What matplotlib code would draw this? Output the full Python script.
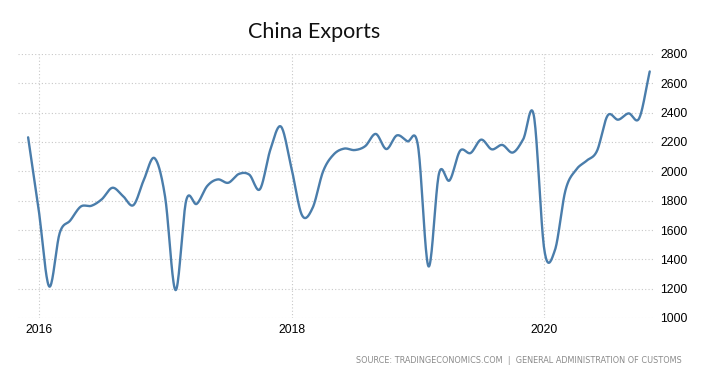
import numpy as np
import matplotlib
matplotlib.use('Agg')
import matplotlib.pyplot as plt

# Monthly exports, Dec 2015 .. Nov 2020 (month index 0 = Jan 2016)
months = np.arange(-1, 59)
exports = [2232,
           1740, 1215, 1580, 1665, 1760, 1765, 1810, 1888, 1832, 1770, 1945, 2090,
           1827, 1190, 1800, 1778, 1900, 1945, 1922, 1982, 1977, 1878, 2150, 2305,
           2020, 1700, 1750, 2000, 2115, 2155, 2145, 2172, 2255, 2152, 2245, 2205,
           2176, 1352, 1985, 1938, 2140, 2125, 2216, 2150, 2180, 2128, 2220, 2380,
           1462, 1462, 1870, 2010, 2072, 2140, 2380, 2352, 2395, 2362, 2681]
year_ticks = [0, 24, 48]
year_labels = ['2016', '2018', '2020']
y_ticks = [1000, 1200, 1400, 1600, 1800, 2000, 2200, 2400, 2600, 2800]


def smooth(x, y, n=20):
    # catmull-rom spline through the points, like the original chart
    x = np.asarray(x, float)
    y = np.asarray(y, float)
    m = np.gradient(y)
    xs, ys = [], []
    t = np.linspace(0, 1, n, endpoint=False)
    h00 = 2 * t**3 - 3 * t**2 + 1
    h10 = t**3 - 2 * t**2 + t
    h01 = -2 * t**3 + 3 * t**2
    h11 = t**3 - t**2
    for i in range(len(x) - 1):
        xs.append(x[i] + t * (x[i + 1] - x[i]))
        ys.append(h00 * y[i] + h10 * m[i] + h01 * y[i + 1] + h11 * m[i + 1])
    xs.append([x[-1]])
    ys.append([y[-1]])
    return np.concatenate(xs), np.concatenate(ys)


fig = plt.figure(figsize=(7.06, 3.87), dpi=100)
ax = fig.add_axes([18 / 706, 69 / 387, 637 / 706, 264 / 387])

sx, sy = smooth(months, exports)
ax.plot(sx, sy, color='#4a7dab', linewidth=1.7, solid_capstyle='round')

ax.set_xlim(-1.96, 58.5)
ax.set_ylim(1000, 2800)
ax.set_xticks(year_ticks)
ax.set_xticklabels(year_labels)
ax.set_yticks(y_ticks)
ax.yaxis.tick_right()
ax.tick_params(length=0, labelsize=8.8)
ax.tick_params(axis='y', pad=3.6)
ax.tick_params(axis='x', pad=4)
for lab in ax.get_xticklabels() + ax.get_yticklabels():
    lab.set_family('Liberation Sans')

ax.grid(True, color='#c8c8c8', linestyle=(0, (1, 2)), linewidth=0.8)
for s in ax.spines.values():
    s.set_visible(False)

fig.text(314.5 / 706, 1 - 38.3 / 387, 'China Exports', ha='center', va='baseline',
         fontsize=15.5, family='Lato', color='#111111')
fig.text(681.7 / 706, 1 - 360.7 / 387,
         'SOURCE: TRADINGECONOMICS.COM  |  GENERAL ADMINISTRATION OF CUSTOMS',
         ha='right', va='center', fontsize=5.9, family='DejaVu Sans', color='#8a8a8a')

fig.savefig('out.png', dpi=100)
